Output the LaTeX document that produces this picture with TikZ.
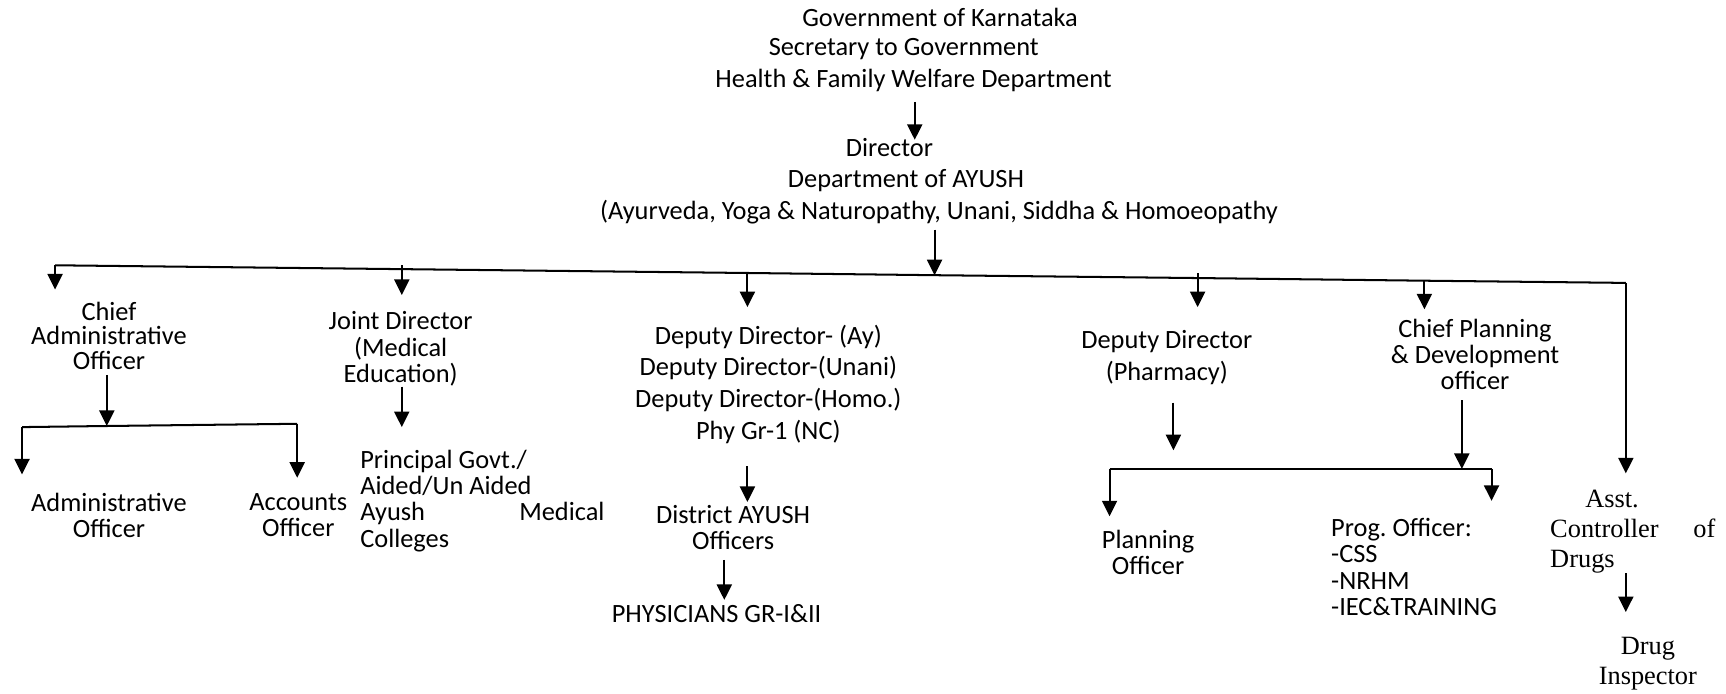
\documentclass[tikz,border=0pt]{standalone}
\usepackage{fontspec}
\setmainfont{Carlito}
\newfontfamily\timesfont{Liberation Serif}
\usetikzlibrary{arrows.meta}
\frenchspacing

\tikzset{
  box/.style={align=center, inner sep=0pt, font=\fontsize{15}{15}\selectfont},
  boxwide/.style={box, font=\fontsize{15}{18}\selectfont},
  tbox/.style={box, font=\timesfont\fontsize{15}{17}\selectfont},
  ln/.style={line width=1.15pt},
  arr/.style={ln, -{Triangle[length=3.1mm, width=3mm]}}
}

\begin{document}
\begin{tikzpicture}[x=0.22mm, y=-0.22mm]
    \useasboundingbox (0,0) rectangle (1568,630);

    % 上の部分
    \node[box] (gok) at (854,16) {Government of Karnataka};
    \node[box] (sec) at (821,45) {Secretary to Government};
    \node[box] (hfw) at (830,73) {Health \& Family Welfare Department};
    \node[box] (dir) at (808,134) {Director};
    \node[box] (dept) at (823,164) {Department of AYUSH};
    \node[box] (ayur) at (853,193) {(Ayurveda, Yoga \& Naturopathy, Unani, Siddha \& Homoeopathy};

    \node[box, font=\fontsize{15}{14}\selectfont] (cao) at (99,305) {Chief\\Administrative\\Officer};
    \node[box] (jd) at (364,317) {Joint Director\\(Medical\\Education)};
    \node[boxwide] (dd) at (698,349) {Deputy Director- (Ay)\\Deputy Director-(Unani)\\Deputy Director-(Homo.)\\Phy Gr-1 (NC)};
    \node[boxwide] (ddp) at (1060,325) {Deputy Director\\(Pharmacy)};
    \node[box] (cpd) at (1340,322) {Chief Planning\\\& Development\\officer};

    \node[box] (ao) at (99,468) {Administrative\\Officer};
    \node[box] (acc) at (271,468) {Accounts\\Officer};
    \node[box, align=left, anchor=west] (prin) at (327,455) {Principal Govt./\\Aided/Un Aided\\\hbox to 48.8mm{Ayush\hfill Medical}\\Colleges};
    \node[box] (dao) at (666,479) {District AYUSH\\Officers};
    \node[box] (phy) at (651,557) {PHYSICIANS GR-I\&II};
    \node[box] (po) at (1043,502) {Planning\\Officer};
    \node[box, align=left, anchor=west] (prog) at (1209,515) {Prog. Officer:\\-CSS\\-NRHM\\-IEC\&TRAINING};
    \node[tbox, align=left, anchor=west] (acd) at (1408,483) {\hspace*{7mm}Asst.\\\hbox to 33mm{Controller\hfill of}\\Drugs};
    \node[tbox] (di) at (1497,603) {Drug\\Inspector};

    % 横の線
    \coordinate (busL) at (50,241);
    \coordinate (b-jd) at (365,244.5);
    \coordinate (b-dd) at (679,248);
    \coordinate (b-top) at (849,250);
    \coordinate (b-ddp) at (1088,252.6);
    \coordinate (b-cpd) at (1294,255);
    \coordinate (busR) at (1477,257);
    \draw[ln] (busL) -- (b-jd) -- (b-dd) -- (b-top) -- (b-ddp) -- (b-cpd) -- (busR);

    \coordinate (subL) at (20,388);
    \coordinate (subM) at (97,387);
    \coordinate (subR) at (270,385);
    \draw[ln] (subL) -- (subM) -- (subR);

    \coordinate (sub2L) at (1008,426);
    \coordinate (sub2M) at (1328,426);
    \coordinate (sub2R) at (1355,426);
    \draw[ln] (sub2L) -- (sub2M) -- (sub2R);

    % 矢印の先
    \coordinate (dir-in) at (831,127);
    \coordinate (cao-in) at (50,263);
    \coordinate (jd-in) at (365,268);
    \coordinate (dd-in) at (679,279);
    \coordinate (ddp-in) at (1088,279);
    \coordinate (cpd-in) at (1294,281);
    \coordinate (acd-in) at (1477,430);
    \coordinate (ao-in) at (20,431);
    \coordinate (acc-in) at (270,434);
    \coordinate (prin-in) at (365,388);
    \coordinate (dao-in) at (679,456);
    \coordinate (phy-in) at (658,545);
    \coordinate (po-mid) at (1066,409);
    \coordinate (po-in) at (1008,469);
    \coordinate (prog-in) at (1355,455);
    \coordinate (di-in) at (1477,556);

    \draw[arr, shorten <=2mm] (hfw.south -| dir-in) -- (dir-in);
    \draw[arr, shorten <=1mm] (ayur.south -| b-top) -- (b-top);
    \draw[arr] (busL) -- (cao-in);
    \draw[arr] ([yshift=0.8mm]b-jd) -- (jd-in);
    \draw[arr] (b-dd) -- (dd-in);
    \draw[arr] ([yshift=1mm]b-ddp) -- (ddp-in);
    \draw[arr] (b-cpd) -- (cpd-in);
    \draw[arr] (busR) -- (acd-in);

    \draw[arr, shorten <=1mm] (cao.south -| subM) -- (subM);
    \draw[arr] (subL) -- (ao-in);
    \draw[arr] (subR) -- (acc-in);
    \draw[arr] (jd.south -| prin-in) -- (prin-in);
    \draw[arr, shorten <=4.5mm] (dd.south -| dao-in) -- (dao-in);
    \draw[arr, shorten <=2mm] (dao.south -| phy-in) -- (phy-in);
    \draw[arr, shorten <=3.5mm] (ddp.south -| po-mid) -- (po-mid);
    \draw[arr, shorten <=2mm] (cpd.south -| sub2M) -- (sub2M);
    \draw[arr] (sub2L) -- (po-in);
    \draw[arr] (sub2R) -- (prog-in);
    \draw[arr] (acd.south -| di-in) -- (di-in);

\end{tikzpicture}
\end{document}
